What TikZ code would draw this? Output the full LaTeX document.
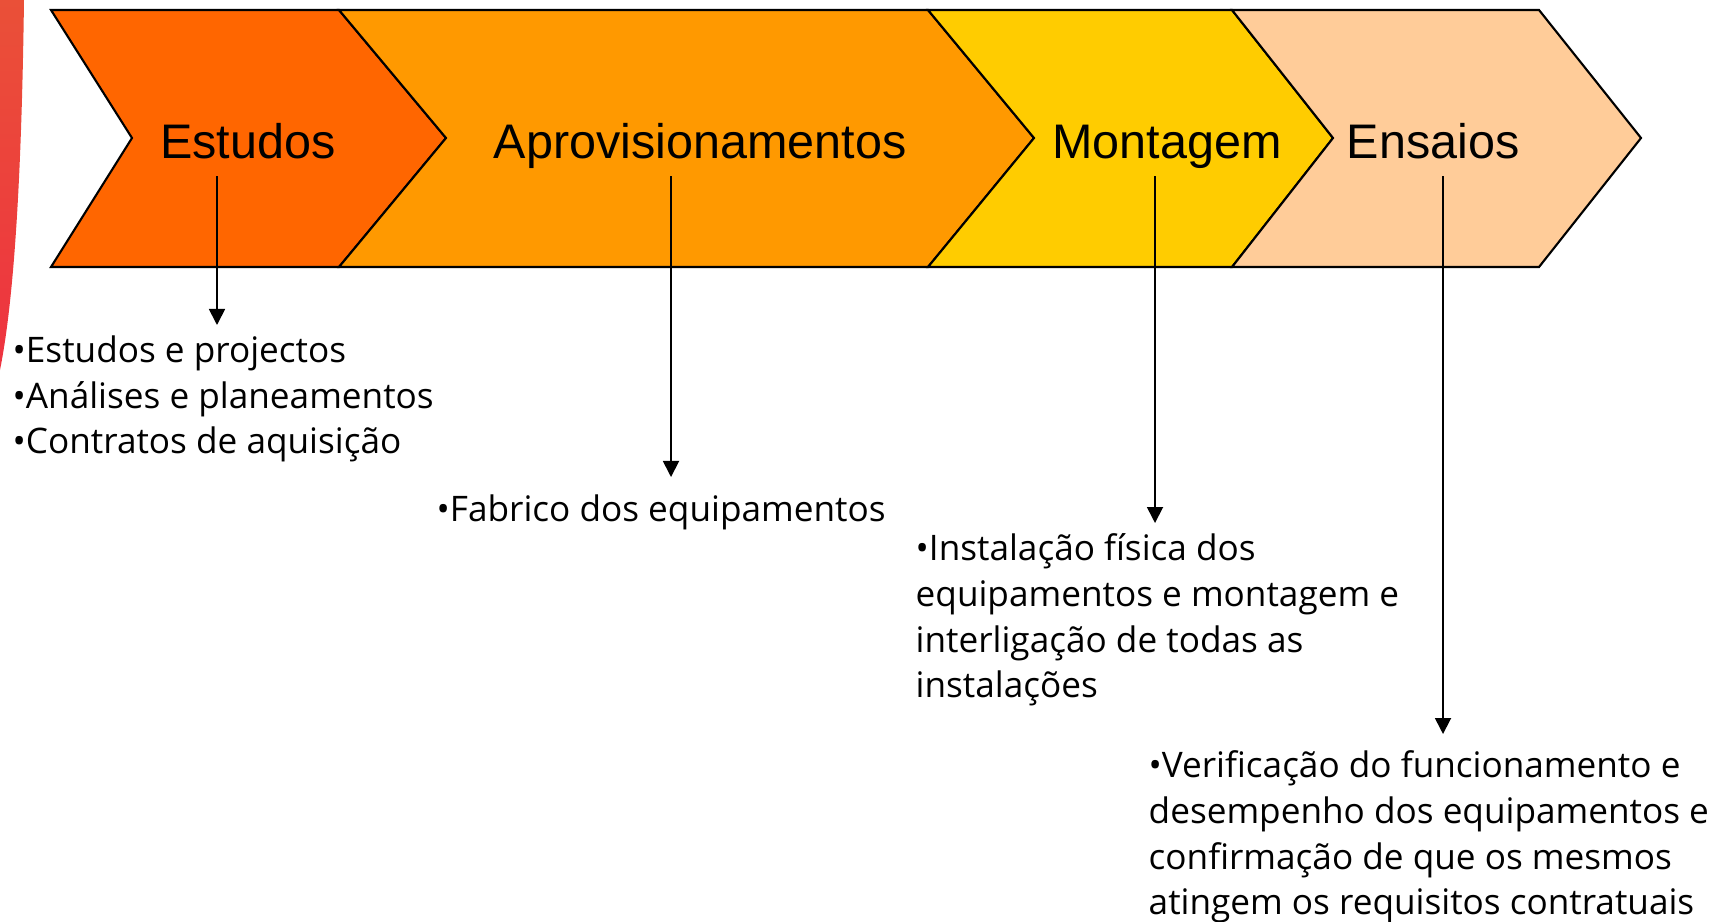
\documentclass[tikz,border=0pt]{standalone}
\usepackage{fontspec}
\usetikzlibrary{arrows.meta}
\newfontfamily\headfont{Liberation Sans}
\newfontfamily\itemfont{Open Sans}
\definecolor{estudos}{HTML}{FF6600}
\definecolor{aprov}{HTML}{FF9900}
\definecolor{montagem}{HTML}{FFCC00}
\definecolor{ensaios}{HTML}{FFCC99}
\definecolor{stripe}{HTML}{EE3340}
\definecolor{stripetop}{HTML}{EA5038}
\tikzset{
  phase/.style={draw=black, line width=0.6pt},
  head/.style={anchor=base, inner sep=0pt, font=\headfont\fontsize{13.8}{16}\selectfont},
  items/.style={anchor=north west, align=left, inner sep=0pt, font=\itemfont\fontsize{10}{13}\selectfont},
  link/.style={line width=0.5pt, -{Triangle[length=0.16cm,width=0.16cm]}}
}
\begin{document}
\begin{tikzpicture}[x=0.01cm,y=-0.01cm]
\useasboundingbox (0,0) rectangle (1722,921);
\shade[top color=stripetop, bottom color=stripe] (0,0) -- (24,0) .. controls (22,150) and (16,290) .. (0,370) -- cycle;

\filldraw[phase, fill=estudos] (51,10) -- (339,10) -- (446,138) -- (339,267) -- (51,267) -- (132,138) -- cycle;
\filldraw[phase, fill=aprov] (339,10) -- (928,10) -- (1034,138) -- (928,267) -- (339,267) -- (446,138) -- cycle;
\filldraw[phase, fill=montagem] (928,10) -- (1232,10) -- (1333,138) -- (1232,267) -- (928,267) -- (1034,138) -- cycle;
\filldraw[phase, fill=ensaios] (1232,10) -- (1539,10) -- (1641,138) -- (1539,267) -- (1232,267) -- (1333,138) -- cycle;

\node[head] (estudos) at (248,158) {Estudos};
\node[head] (aprov) at (700,158) {Aprovisionamentos};
\node[head] (montagem) at (1167,158) {Montagem};
\node[head] (ensaios) at (1433,158) {Ensaios};

\node[items] (estudosItems) at (12,335) {•Estudos e projectos\\•Análises e planeamentos\\•Contratos de aquisição};
\node[items] (aprovItems) at (436,494) {•Fabrico dos equipamentos};
\node[items] (montagemItems) at (915,533) {•Instalação física dos\\equipamentos e montagem e\\interligação de todas as\\instalações};
\node[items] (ensaiosItems) at (1148,750) {•Verificação do funcionamento e\\desempenho dos equipamentos e\\confirmação de que os mesmos\\atingem os requisitos contratuais};

\coordinate (estudosTop) at (217,176);
\coordinate (estudosEnd) at (217,325);
\coordinate (aprovTop) at (671,176);
\coordinate (aprovEnd) at (671,477);
\coordinate (montagemTop) at (1155,176);
\coordinate (montagemEnd) at (1155,523);
\coordinate (ensaiosTop) at (1443,176);
\coordinate (ensaiosEnd) at (1443,734);
\draw[link] (estudosTop) -- (estudosEnd);
\draw[link] (aprovTop) -- (aprovEnd);
\draw[link] (montagemTop) -- (montagemEnd);
\draw[link] (ensaiosTop) -- (ensaiosEnd);
\end{tikzpicture}
\end{document}
